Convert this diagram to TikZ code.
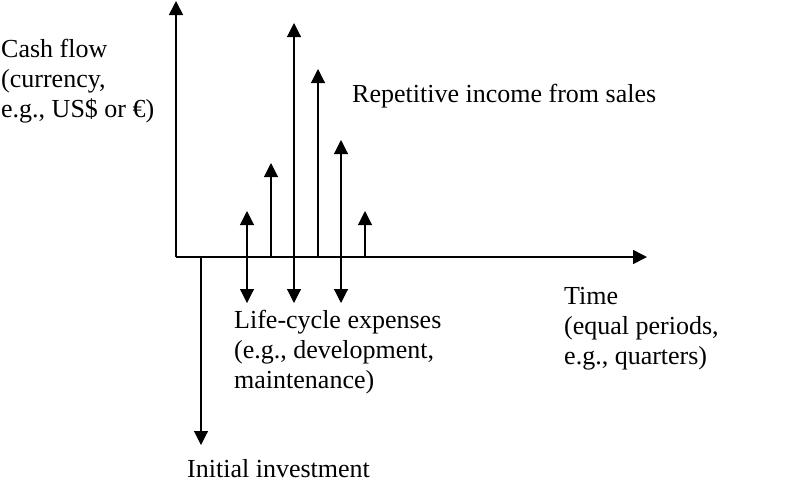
\documentclass[tikz,border=0pt]{standalone}
\usepackage{fontspec}
\setmainfont{Liberation Serif}
\usetikzlibrary{arrows.meta}
\begin{document}
\begin{tikzpicture}[x=1pt,y=-1pt,
  axis/.style={line width=1.6pt,-{Triangle[width=14pt,length=14pt]}},
  flow/.style={line width=1.1pt,-{Triangle[width=14pt,length=14pt]}},
  bothflow/.style={line width=1.1pt,{Triangle[width=14pt,length=14pt]}-{Triangle[width=14pt,length=14pt]}},
  lbl/.style={inner sep=0pt,font=\fontsize{26}{30}\selectfont,align=left}]
\useasboundingbox (0,0) rectangle (800,496);
% axes
\coordinate (O) at (176,257);
\coordinate (Ytip) at (176,1);
\coordinate (Xtip) at (647,257);
\draw[axis] (O) -- (Ytip);
\draw[axis] (O) -- (Xtip);
% initial investment
\coordinate (i0) at (201,257);
\coordinate (i1) at (201,445);
\draw[flow] (i0) -- (i1);
% double-headed (expense + income)
\coordinate (a1) at (247,303); \coordinate (b1) at (247,211);
\coordinate (a3) at (294,303); \coordinate (b3) at (294,23);
\coordinate (a5) at (341,303); \coordinate (b5) at (341,140);
\draw[bothflow] (a1) -- (b1);
\draw[bothflow] (a3) -- (b3);
\draw[bothflow] (a5) -- (b5);
% income only
\coordinate (a2) at (271,257); \coordinate (b2) at (271,163);
\coordinate (a4) at (318,257); \coordinate (b4) at (318,69);
\coordinate (a6) at (365,257); \coordinate (b6) at (365,211);
\draw[flow] (a2) -- (b2);
\draw[flow] (a4) -- (b4);
\draw[flow] (a6) -- (b6);
% labels
\node[lbl,anchor=north west] (cash) at (1,39) {Cash flow\\(currency,\\e.g., US\$ or €)};
\node[lbl,anchor=base west] (rep) at (352,102) {Repetitive income from sales};
\node[lbl,anchor=north west] (time) at (564,287) {Time\\(equal periods,\\e.g., quarters)};
\node[lbl,anchor=north west] (life) at (234,310) {Life-cycle expenses\\(e.g., development,\\maintenance)};
\node[lbl,anchor=base west] (init) at (187,477) {Initial investment};
\end{tikzpicture}
\end{document}
